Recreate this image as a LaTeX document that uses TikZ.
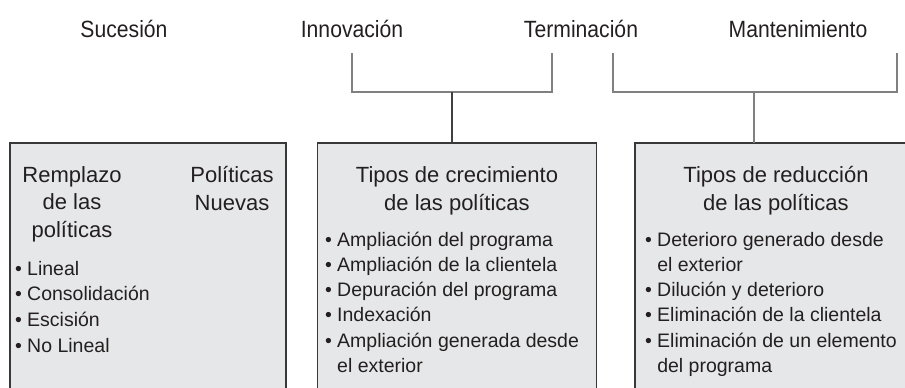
\documentclass[tikz,border=0pt]{standalone}
\usepackage{fontspec}
\setmainfont{Liberation Sans}
\newfontfamily\stagefont{Liberation Sans}[FakeStretch=0.9]
\usetikzlibrary{positioning}
\definecolor{panelgray}{HTML}{E6E7E8}
\definecolor{bracketgray}{HTML}{808080}
\definecolor{inkgray}{HTML}{231F20}

\begin{document}
\begin{tikzpicture}[x=1pt,y=-1pt,
  every node/.style={inner sep=0pt, outer sep=0pt, text=inkgray},
  stage/.style={font=\stagefont\fontsize{23.5}{28}\selectfont, anchor=base},
  panel/.style={draw=black!78, fill=panelgray, line width=1.2pt, anchor=north west, minimum height=270pt},
  title/.style={font=\fontsize{22}{27.5}\selectfont, align=center, anchor=base},
  items/.style={font=\fontsize{19.5}{25.3}\selectfont, align=left, anchor=base west},
  bracket/.style={draw=bracketgray, line width=1.3pt}]
  \useasboundingbox (0,0) rectangle (905,388);
  \clip (0,0) rectangle (905,388);

  % stages
  \node[stage] (sucesion) at (124,37) {Sucesión};
  \node[stage] (innovacion) at (352,37) {Innovación};
  \node[stage] (terminacion) at (581,37) {Terminación};
  \node[stage] (mantenimiento) at (798,37) {Mantenimiento};

  % panels
  \node[panel, minimum width=276pt] (remplazo) at (10,143) {};
  \node[panel, minimum width=279pt] (crecimiento) at (317.5,143) {};
  \node[panel, minimum width=280pt] (reduccion) at (635,143) {};

  % brackets
  \coordinate (inno top) at (352,53);
  \coordinate (term top) at (552,53);
  \coordinate (grow join) at (452,92);
  \coordinate (term low) at (613,53);
  \coordinate (mant top) at (897,53);
  \coordinate (red join) at (754,92);
  \draw[bracket] (inno top) |- (term top |- grow join) -- (term top);
  \draw[bracket, draw=black!75, line width=1.1pt] (grow join) -- (grow join |- crecimiento.north);
  \draw[bracket] (term low) |- (mant top |- red join) -- (mant top);
  \draw[bracket] (red join) -- (red join |- reduccion.north);

  % texts of the first panel (anchored on their last line)
  \node[title] (remplazo title) at (72,237) {Remplazo\\de las\\políticas};
  \node[title] (nuevas title) at (232,210) {Políticas\\Nuevas};
  \node[items, font=\fontsize{19.5}{25.8}\selectfont] (remplazo list) at (15,352.5)
    {\textbullet\ Lineal\\\textbullet\ Consolidación\\\textbullet\ Escisión\\\textbullet\ No Lineal};

  % texts of the second panel
  \node[title] (crecimiento title) at (457,210) {Tipos de crecimiento\\de las políticas};
  \node[items] (crecimiento list) at (325,372.5)
    {\textbullet\ Ampliación del programa\\\textbullet\ Ampliación de la clientela\\
     \textbullet\ Depuración del programa\\\textbullet\ Indexación\\
     \textbullet\ Ampliación generada desde\\\phantom{\textbullet\ }el exterior};

  % texts of the third panel
  \node[title] (reduccion title) at (776,210) {Tipos de reducción\\de las políticas};
  \node[items] (reduccion list) at (645,372.5)
    {\textbullet\ Deterioro generado desde\\\phantom{\textbullet\ }el exterior\\
     \textbullet\ Dilución y deterioro\\\textbullet\ Eliminación de la clientela\\
     \textbullet\ Eliminación de un elemento\\\phantom{\textbullet\ }del programa};
\end{tikzpicture}
\end{document}
